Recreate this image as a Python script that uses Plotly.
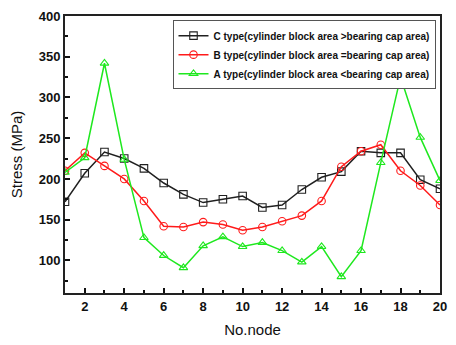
import plotly.graph_objects as go

nodes = list(range(1, 21))
c_type = [172, 207, 233, 225, 213, 195, 181, 171, 175, 179, 165, 168, 187, 202, 209, 234, 232, 232, 199, 188]
b_type = [210, 232, 216, 200, 173, 142, 141, 147, 144, 137, 141, 148, 155, 173, 215, 234, 242, 210, 192, 168]
a_type = [208, 226, 342, 224, 128, 106, 91, 118, 129, 117, 122, 112, 98, 117, 80, 112, 220, 325, 251, 198]

names = [
    "C type(cylinder block area >bearing cap area)",
    "B type(cylinder block area =bearing cap area)",
    "A type(cylinder block area <bearing cap area)",
]
colors = ["#202020", "#ff1a1a", "#1ee81e"]
symbols = ["square-open", "circle-open", "triangle-up-open"]

fig = go.Figure()
for ys, nm, col, sym in zip([c_type, b_type, a_type], names, colors, symbols):
    fig.add_trace(go.Scatter(
        x=nodes, y=ys, name=nm, mode="lines+markers",
        line=dict(color=col, width=1.5),
        marker=dict(symbol=sym, size=7.5, color=col, line=dict(width=1.1, color=col)),
    ))

font_family = "Liberation Sans, Arial, sans-serif"
fig.update_layout(
    width=456, height=345,
    margin=dict(l=65, r=9, t=15, b=48),
    paper_bgcolor="white", plot_bgcolor="white",
    font=dict(family=font_family, color="#111"),
    showlegend=True,
    legend=dict(
        x=0.988, y=0.985, xanchor="right", yanchor="top",
        bordercolor="#555", borderwidth=1, bgcolor="white",
        font=dict(size=10, family=font_family, weight="bold"),
        tracegroupgap=0, itemwidth=30,
    ),
)
fig.update_xaxes(
    range=[1, 20], tickmode="array", tickvals=[2, 4, 6, 8, 10, 12, 14, 16, 18, 20],
    ticks="inside", ticklen=5, tickwidth=1.5, tickcolor="#111",
    minor=dict(tickvals=[3, 5, 7, 9, 11, 13, 15, 17, 19], ticks="inside", ticklen=3, tickwidth=1.5, tickcolor="#111"),
    showline=True, linecolor="#222", linewidth=2, mirror=True,
    showgrid=False, zeroline=False,
    tickfont=dict(size=13, weight="bold"),
    title=dict(text="No.node", font=dict(size=15), standoff=12),
)
fig.update_yaxes(
    range=[60, 400], tickmode="array", tickvals=[100, 150, 200, 250, 300, 350, 400],
    ticks="inside", ticklen=5, tickwidth=1.5, tickcolor="#111",
    minor=dict(tickvals=[75, 125, 175, 225, 275, 325, 375], ticks="inside", ticklen=3, tickwidth=1.5, tickcolor="#111"),
    showline=True, linecolor="#222", linewidth=2, mirror=True,
    showgrid=False, zeroline=False,
    tickfont=dict(size=13, weight="bold"),
    title=dict(text="Stress (MPa)", font=dict(size=15), standoff=12),
)

fig.write_html("out.html")
